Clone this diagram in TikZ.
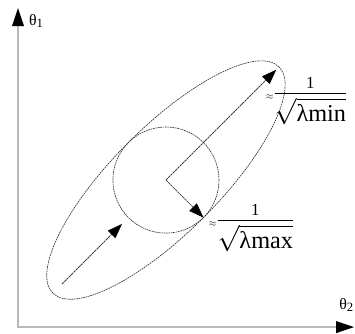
\documentclass[tikz,border=0pt]{standalone}
\usepackage{amsmath}
\usepackage{fontspec}
\setmainfont{Liberation Serif}
\usepackage{tkz-euclide}
\usetikzlibrary{calc, arrows.meta}

\newcommand{\invsqrt}[1]{{\fontsize{9}{10}\selectfont$\approx$}$\genfrac{}{}{1.2pt}{0}{\smash{\raisebox{-6pt}{\fontsize{16}{17}\selectfont 1}}}{\sqrt{\text{#1}}}$}

\tikzset{
  axis/.style={line width=1.5pt, gray!55,
    {Triangle[length=17pt, width=11pt, color=black]}-{Triangle[length=17pt, width=11pt, color=black]}},
  contour/.style={line width=0.6pt, black!80, dash pattern=on 1.6pt off 0.7pt},
  vec/.style={line width=0.7pt, black!75, dash pattern=on 2.5pt off 0.6pt,
    -{Triangle[length=14pt, width=10pt, color=black]}},
  lbl/.style={font=\fontsize{23}{26}\selectfont, inner sep=0pt}
}

\begin{document}
\begin{tikzpicture}
  \useasboundingbox (-0.6,-0.2) rectangle (11.23,10.9);
  \tkzDefPoint(0,0){O}
  \tkzDefPoint(0,10.63){Y}
  \tkzDefPoint(11.2,0){X}
  \tkzDefPoint(4.93,4.9){C}   % common centre of circle and ellipse
  \tkzDefShiftPoint[C](45:5.2){Amin}
  \tkzDefShiftPoint[C](-45:1.77){Amax}   % circle touches the ellipse here
  \tkzDefShiftPoint[C](225:4.9){B0}
  \tkzDefShiftPoint[C](225:2.07){B1}

  \draw[axis] (Y) -- (O) -- (X);
  \node[anchor=west, font=\fontsize{15}{16}\selectfont, inner sep=0pt] (th1) at (0.36,10.2) {θ\raisebox{-2pt}{\fontsize{12}{13}\selectfont 1}};
  \node[anchor=west, font=\fontsize{15}{16}\selectfont, inner sep=0pt] (th2) at (10.7,0.73) {θ\raisebox{-2pt}{\fontsize{12}{13}\selectfont 2}};

  \draw[contour, rotate around={45:(C)}] (C) ellipse [x radius=5.33, y radius=1.77];
  \tkzDrawCircle[contour](C,Amax)

  \draw[vec] (C) -- (Amin);
  \draw[vec] (C) -- (Amax);
  \draw[vec] (B0) -- (B1);

  % long and short half axes
  \node[lbl, anchor=west] (lmin) at (8.25,7.45) {\invsqrt{λmin}};
  \node[lbl, anchor=west] (lmax) at (6.35,3.22) {\invsqrt{λmax}};
\end{tikzpicture}
\end{document}
